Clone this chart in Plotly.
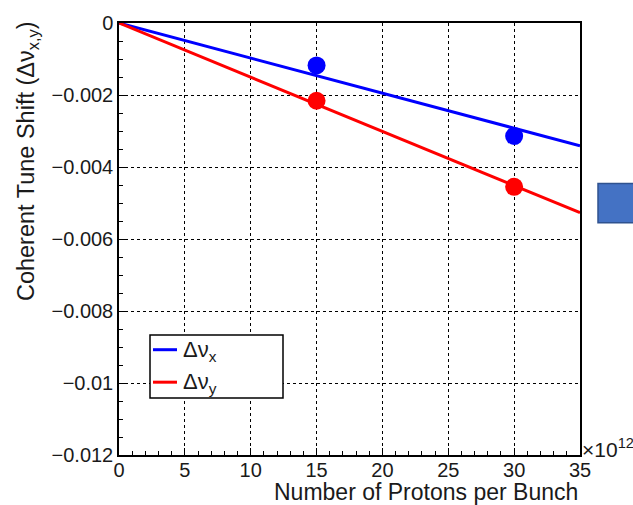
import plotly.graph_objects as go

# ---- data ----
protons = [15, 30]                      # x 10^12 protons per bunch
dnu_x = [-0.00118, -0.00314]
dnu_y = [-0.00216, -0.00455]
fit_x = [0, 35]
fit_dnu_x = [0.0, -0.00341]
fit_dnu_y = [0.0, -0.00527]

x_ticks = [0, 5, 10, 15, 20, 25, 30, 35]
y_ticks = [0, -0.002, -0.004, -0.006, -0.008, -0.010, -0.012]
y_ticktext = ["0", "\u22120.002", "\u22120.004", "\u22120.006", "\u22120.008", "\u22120.01", "\u22120.012"]

BLUE = "#0000ff"
RED = "#ff0000"
FONT = "Liberation Sans, Arial, Helvetica, sans-serif"
TXT = "#1a1a1a"
TICK_SIZE = 20

W, H = 633, 505
L, R, T, B = 119, 53, 16, 50
pw, ph = W - L - R, H - T - B


def px(x):
    return (x - L) / pw


def py(y):
    return (H - B - y) / ph


fig = go.Figure()
fig.add_trace(go.Scatter(x=fit_x, y=fit_dnu_x, mode="lines", line=dict(color=BLUE, width=3),
                         name="\u0394\u03bd<sub>x</sub>", showlegend=False))
fig.add_trace(go.Scatter(x=fit_x, y=fit_dnu_y, mode="lines", line=dict(color=RED, width=3),
                         name="\u0394\u03bd<sub>y</sub>", showlegend=False))
fig.add_trace(go.Scatter(x=protons, y=dnu_x, mode="markers", marker=dict(color=BLUE, size=18),
                         showlegend=False))
fig.add_trace(go.Scatter(x=protons, y=dnu_y, mode="markers", marker=dict(color=RED, size=18),
                         showlegend=False))

axis_common = dict(
    showline=True, linecolor="black", linewidth=1.5, mirror=True,
    ticks="inside", ticklen=7, tickwidth=1, tickcolor="black",
    showgrid=True, gridcolor="black", gridwidth=1, griddash="dot",
    zeroline=False,
)

fig.update_xaxes(range=[0, 35], tickmode="array", tickvals=x_ticks, ticktext=[str(v) for v in x_ticks],
                 ticklabelstandoff=-4,
                 minor=dict(ticks="inside", ticklen=4, dtick=1, tickcolor="black", showgrid=False),
                 **axis_common)
fig.update_yaxes(range=[-0.012, 0], tickmode="array", tickvals=y_ticks, ticktext=y_ticktext,
                 minor=dict(ticks="inside", ticklen=4, dtick=0.0005, tickcolor="black", showgrid=False),
                 **axis_common)
fig.layout.xaxis.tickfont = dict(family=FONT, size=TICK_SIZE, color=TXT)
fig.layout.yaxis.tickfont = dict(family=FONT, size=TICK_SIZE, color=TXT)

shapes = []
# legend box
shapes.append(dict(type="rect", xref="paper", yref="paper", x0=px(150), x1=px(283), y0=py(397), y1=py(333),
                   line=dict(color="black", width=1.5), fillcolor="white", layer="above"))
shapes.append(dict(type="line", xref="paper", yref="paper", x0=px(153), x1=px(177), y0=py(348), y1=py(348),
                   line=dict(color=BLUE, width=3), layer="above"))
shapes.append(dict(type="line", xref="paper", yref="paper", x0=px(153), x1=px(177), y0=py(381), y1=py(381),
                   line=dict(color=RED, width=3), layer="above"))
# clipped blue box on the right
shapes.append(dict(type="rect", xref="paper", yref="paper", x0=px(598), x1=px(645), y0=py(219), y1=py(179),
                   line=dict(color="#2f528f", width=1.5), fillcolor="#4472c4", layer="above"))

annotations = [
    dict(text="\u0394\u03bd<sub>x</sub>", xref="paper", yref="paper", x=px(181), y=py(349),
         xanchor="left", yanchor="middle", showarrow=False, font=dict(family=FONT, size=22, color=TXT)),
    dict(text="\u0394\u03bd<sub>y</sub>", xref="paper", yref="paper", x=px(181), y=py(382),
         xanchor="left", yanchor="middle", showarrow=False, font=dict(family=FONT, size=22, color=TXT)),
    dict(text="Number of Protons per Bunch", xref="paper", yref="paper", x=px(580), y=py(493),
         xanchor="right", yanchor="middle", showarrow=False, font=dict(family=FONT, size=23, color=TXT)),
    dict(text="Coherent Tune Shift (\u0394\u03bd<sub>x,y</sub>)", xref="paper", yref="paper", x=px(27), y=py(12),
         xanchor="center", yanchor="top", textangle=-90, showarrow=False,
         font=dict(family=FONT, size=23.5, color=TXT)),
    dict(text="\u00d710<sup>12</sup>", xref="paper", yref="paper", x=px(580), y=py(448),
         xanchor="left", yanchor="middle", showarrow=False, font=dict(family=FONT, size=21, color=TXT)),
]

fig.update_layout(
    width=W, height=H, margin=dict(l=L, r=R, t=T, b=B),
    font=dict(family=FONT, size=TICK_SIZE, color=TXT),
    paper_bgcolor="white", plot_bgcolor="white",
    shapes=shapes, annotations=annotations, showlegend=False,
)

fig.write_html("out.html")
